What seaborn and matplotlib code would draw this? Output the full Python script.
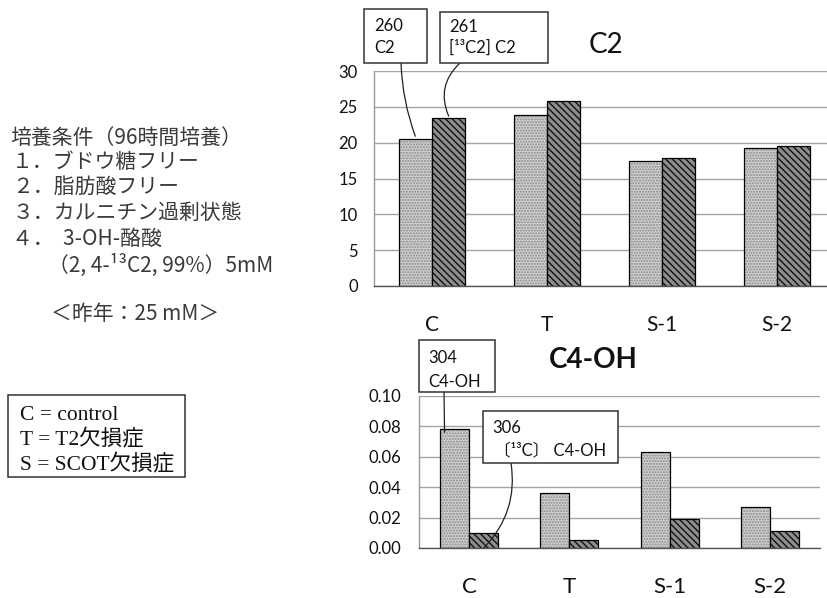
import matplotlib
matplotlib.use("Agg")
import matplotlib.pyplot as plt
import seaborn as sns
import pandas as pd
from matplotlib.patches import Rectangle
from matplotlib.transforms import Bbox
from matplotlib.colors import to_rgba

# ---------------- data ----------------
categories = ["C", "T", "S-1", "S-2"]
c2_series = ["260 C2", "261 [13C2] C2"]
c2_260 = [20.5, 23.9, 17.5, 19.3]
c2_261 = [23.4, 25.8, 17.8, 19.6]
c4_series = ["304 C4-OH", "306 [13C] C4-OH"]
c4_304 = [0.078, 0.036, 0.063, 0.027]
c4_306 = [0.010, 0.005, 0.019, 0.011]
c2_ticks = [0, 5, 10, 15, 20, 25, 30]
c4_ticks = [0.00, 0.02, 0.04, 0.06, 0.08, 0.10]

left_lines = ["培養条件（96時間培養）",
              "１．ブドウ糖フリー",
              "２．脂肪酸フリー",
              "３．カルニチン過剰状態",
              "４．  3-OH-酪酸",
              "（2, 4-¹³C2, 99%）5mM",
              "＜昨年：25 mM＞"]
legend_lines = ["C = control", "T = T2欠損症", "S = SCOT欠損症"]

sns.set_theme(style="white")
plt.rcParams["font.family"] = ["Lato", "Noto Sans CJK JP", "DejaVu Sans"]
plt.rcParams["hatch.linewidth"] = 1.0

W, H = 828, 598
fig = plt.figure(figsize=(W / 100, H / 100), dpi=100)
fig.patch.set_facecolor("white")


def fx(x):
    return x / W


def fy(y):
    return 1 - y / H


LIGHT_FACE = "#d0d0d0"
LIGHT_HATCH = "#8a8a8a"
DARK_FACE = "#8e8e8e"
DARK_HATCH = "#111111"
BAR_W = 0.58


def draw(ax, s1, s2, names, ticks, fmt, xlabsize, ypad, xpad):
    df = pd.DataFrame({
        "cat": categories * 2,
        "val": list(s1) + list(s2),
        "series": [names[0]] * len(categories) + [names[1]] * len(categories),
    })
    sns.barplot(data=df, x="cat", y="val", hue="series", order=categories,
                hue_order=names, palette=[LIGHT_FACE, DARK_FACE], width=BAR_W,
                edgecolor="black", linewidth=0.9, errorbar=None, legend=False,
                ax=ax, saturation=1)
    for p in ax.containers[0]:
        p.set_hatch("......")
        p._hatch_color = to_rgba(LIGHT_HATCH)
    for p in ax.containers[1]:
        p.set_hatch("\\\\\\\\\\")
        p._hatch_color = to_rgba(DARK_HATCH)
    ax.set_ylim(ticks[0], ticks[-1])
    ax.set_yticks(ticks)
    ax.set_yticklabels([fmt.format(t) for t in ticks], fontsize=12)
    ax.set_xticks(range(len(categories)))
    ax.set_xticklabels(categories, fontsize=xlabsize)
    ax.set_xlabel("")
    ax.set_ylabel("")
    ax.set_axisbelow(True)
    ax.yaxis.grid(True, color="#a4a4a4", linewidth=1.0)
    ax.xaxis.grid(False)
    ax.tick_params(axis="y", length=0, pad=ypad, colors="#111")
    ax.tick_params(axis="x", length=0, pad=xpad, colors="#111")
    for s in ["top", "right"]:
        ax.spines[s].set_visible(False)
    ax.spines["left"].set_color("#9a9a9a")
    ax.spines["left"].set_linewidth(1.0)
    ax.spines["bottom"].set_color("#555555")
    ax.spines["bottom"].set_linewidth(1.0)
    ax.set_facecolor("white")


# ---------------- top chart: C2 ----------------
ax1 = fig.add_axes([fx(374.5), fy(286), (W - 374.5) / W, 215 / H])
draw(ax1, c2_260, c2_261, c2_series, c2_ticks, "{:d}", 15, 12, 21)
ax1.set_xlim(-0.5, 3.5 - (834.5 - W) / 115)
clip = Bbox.from_extents(0, H - 331, W, H)
for lab in ax1.get_xticklabels():
    lab.set_clip_box(clip)
    lab.set_clip_on(True)

# ---------------- bottom chart: C4-OH ----------------
ax2 = fig.add_axes([fx(419), fy(548), 401 / W, 152 / H])
draw(ax2, c4_304, c4_306, c4_series, c4_ticks, "{:.2f}", 16, 13, 21)
ax2.set_xlim(-0.5, 3.5)

# ---------------- titles ----------------
fig.text(fx(606), fy(53), "C2", fontsize=20, ha="center", va="baseline",
         color="#111")
fig.text(fx(593), fy(368), "C4-OH", fontsize=20, fontweight="bold",
         ha="center", va="baseline", color="#111")

# ---------------- callout boxes ----------------
BOX_EC = "#333333"


def box(x0, y0, x1, y1):
    fig.add_artist(Rectangle((fx(x0), fy(y1)), (x1 - x0) / W, (y1 - y0) / H,
                             transform=fig.transFigure, facecolor="white",
                             edgecolor=BOX_EC, linewidth=1.1, zorder=5))


def btext(x, y, s):
    fig.text(fx(x), fy(y), s, fontsize=12, ha="left", va="baseline",
             color="#111", zorder=6)


def leader(ax, start, xy, rad):
    ax.annotate("", xy=xy, xycoords="data",
                xytext=(fx(start[0]), fy(start[1])),
                textcoords="figure fraction", annotation_clip=False,
                arrowprops=dict(arrowstyle="-", color="#222", lw=0.9,
                                shrinkA=0, shrinkB=0,
                                connectionstyle=f"arc3,rad={rad}"),
                zorder=6)


off = BAR_W / 4
box(364, 9, 427, 63)
btext(374, 31, "260")
btext(374, 53, "C2")
leader(ax1, (401, 63), (-off, c2_260[0] + 0.4), 0.08)

box(440, 12, 548, 63)
btext(449, 32, "261")
btext(449, 53, "[¹³C2] C2")
leader(ax1, (460, 63), (off, c2_261[0] + 0.3), 0.35)

box(419, 340, 495, 392)
btext(428, 363, "304")
btext(428, 387, "C4-OH")
leader(ax2, (444, 392), (-off - 0.10, c4_304[0] - 0.002), 0.0)

box(483, 411, 618, 463)
btext(492, 433, "306")
btext(494, 455, "〔¹³C〕 C4-OH")
leader(ax2, (511, 463), (off, c4_306[0] * 0), -0.25)

# ---------------- left annotation text ----------------
left_x = [10, 12, 12, 12, 12, 48, 51]
left_y = [138, 162, 187, 213, 239, 265, 314]
for s, x, y in zip(left_lines, left_x, left_y):
    fig.text(fx(x), fy(y), s, fontsize=15, ha="left", va="center",
             color="#3a3a3a", family=["Noto Sans CJK JP", "DejaVu Sans"])

# ---------------- legend box ----------------
fig.add_artist(Rectangle((fx(8), fy(477)), (185 - 8) / W, (477 - 395) / H,
                         transform=fig.transFigure, facecolor="white",
                         edgecolor="#333", linewidth=1.1))
for i, s in enumerate(legend_lines):
    fig.text(fx(20), fy(415 + 25 * i), s, fontsize=15.5, ha="left",
             va="center", color="#111",
             family=["Liberation Serif", "Noto Sans CJK JP"])

fig.savefig("out.png", dpi=100)
